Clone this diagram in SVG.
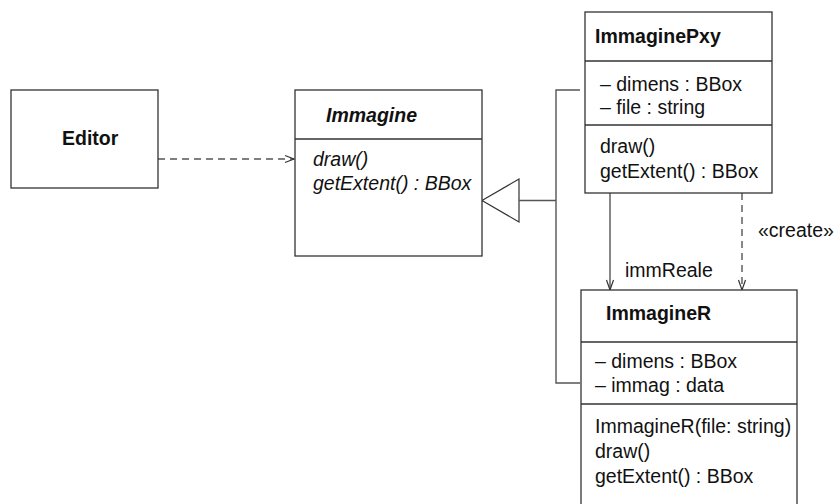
<svg xmlns="http://www.w3.org/2000/svg" width="836" height="504" viewBox="0 0 836 504">
  <style>
    .box { fill: #ffffff; stroke: #333333; stroke-width: 1.3; }
    .sep { stroke: #333333; stroke-width: 1.3; }
    .t { font-family: "Liberation Sans", Arial, sans-serif; font-size: 19.5px; fill: #111111; }
    .b { font-weight: bold; }
    .i { font-style: italic; }
    .ln { fill: none; stroke: #555555; stroke-width: 1.4; }
    .dash { stroke-dasharray: 7 5; }
    .head { fill: none; stroke: #333333; stroke-width: 1.2; }
  </style>

  <g id="connectors">
    <!-- Editor depends on Immagine -->
    <line class="ln dash" x1="158" y1="159" x2="294" y2="159"/>
    <polyline class="head" points="285,155.5 294,159 285,162.5"/>
    <!-- generalization: both subclasses realize Immagine -->
    <polygon points="482,200.5 519,179 519,222" fill="#ffffff" stroke="#333333" stroke-width="1.2"/>
    <line class="ln" x1="519" y1="200.5" x2="556" y2="200.5"/>
    <polyline class="ln" points="580,90 556,90 556,383 580,383"/>
    <!-- association immReale -->
    <line class="ln" x1="610" y1="193" x2="610" y2="290"/>
    <polyline class="head" points="606.5,280 610,290 613.5,280"/>
    <!-- create dependency -->
    <line class="ln dash" x1="742" y1="193" x2="742" y2="289"/>
    <polyline class="head" points="738.5,280 742,290 745.5,280"/>
    <text class="t" x="625" y="277">immReale</text>
    <text class="t" x="758" y="237">«create»</text>
  </g>

  <g id="editor">
    <rect class="box" x="11" y="90" width="147" height="98"/>
    <text class="t b" x="62" y="145">Editor</text>
  </g>

  <g id="immagine">
    <rect class="box" x="295" y="90" width="187" height="166"/>
    <line class="sep" x1="295" y1="139" x2="482" y2="139"/>
    <text class="t b i" x="326" y="122">Immagine</text>
    <text class="t i" x="313" y="166">draw()</text>
    <text class="t i" x="313" y="190">getExtent() : BBox</text>
  </g>

  <g id="immagine-pxy">
    <rect class="box" x="585" y="12" width="187" height="181"/>
    <line class="sep" x1="585" y1="61" x2="772" y2="61"/>
    <line class="sep" x1="585" y1="125" x2="772" y2="125"/>
    <text class="t b" x="595" y="43">ImmaginePxy</text>
    <text class="t" x="600" y="91">– dimens : BBox</text>
    <text class="t" x="600" y="114">– file : string</text>
    <text class="t" x="600" y="153">draw()</text>
    <text class="t" x="600" y="178">getExtent() : BBox</text>
  </g>

  <g id="immagine-r">
    <rect class="box" x="581" y="290" width="216" height="230"/>
    <line class="sep" x1="581" y1="342" x2="797" y2="342"/>
    <line class="sep" x1="581" y1="404" x2="797" y2="404"/>
    <text class="t b" x="606" y="320">ImmagineR</text>
    <text class="t" x="595" y="368">– dimens : BBox</text>
    <text class="t" x="595" y="392">– immag : data</text>
    <text class="t" x="595" y="433">ImmagineR(file: string)</text>
    <text class="t" x="595" y="458">draw()</text>
    <text class="t" x="595" y="483">getExtent() : BBox</text>
  </g>
</svg>
